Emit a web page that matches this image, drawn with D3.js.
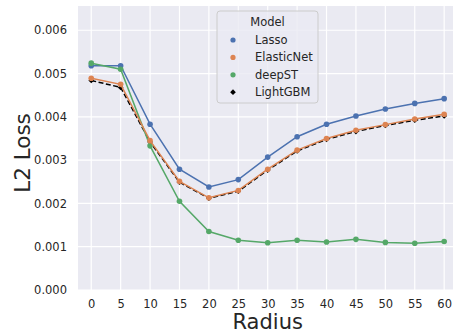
<!DOCTYPE html>
<html>
<head>
<meta charset="utf-8">
<script src="https://cdn.jsdelivr.net/npm/d3@7"></script>
<style>
  body { margin: 0; background: #fff; }
  svg { display: block; font-family: "DejaVu Sans", sans-serif; }
</style>
</head>
<body>
<div id="chart"></div>
<script>
const radius = [0, 5, 10, 15, 20, 25, 30, 35, 40, 45, 50, 55, 60];
const lasso = [0.00518, 0.00518, 0.00383, 0.00279, 0.00238, 0.00255, 0.00307, 0.00354, 0.00383, 0.00402, 0.00418, 0.00431, 0.00442];
const elasticNet = [0.00489, 0.00475, 0.00345, 0.00251, 0.00213, 0.00230, 0.00279, 0.00323, 0.00350, 0.00369, 0.00382, 0.00395, 0.00406];
const deepST = [0.00524, 0.00510, 0.00333, 0.00205, 0.00135, 0.00115, 0.00109, 0.00115, 0.00111, 0.00117, 0.00110, 0.00108, 0.00112];
const lightGBM = [0.00484, 0.00468, 0.00342, 0.00249, 0.00212, 0.00228, 0.00277, 0.00321, 0.00348, 0.00366, 0.00380, 0.00392, 0.00402];
const yTicks = [0, 0.001, 0.002, 0.003, 0.004, 0.005, 0.006];
const modelNames = ["Lasso", "ElasticNet", "deepST", "LightGBM"];

const width = 453, height = 334;
const plot = { left: 78, top: 6, right: 453, bottom: 290 };

const svg = d3.select("#chart")
    .append("svg")
    .attr("width", width)
    .attr("height", height);

const x = d3.scaleLinear()
    .domain([-2.25, 61.5])
    .range([plot.left, plot.right]);

const y = d3.scaleLinear()
    .domain([0, 0.00656])
    .range([plot.bottom, plot.top]);

// background
svg.append("rect")
    .attr("x", plot.left)
    .attr("y", plot.top)
    .attr("width", plot.right - plot.left + 10)
    .attr("height", plot.bottom - plot.top)
    .attr("fill", "#eaeaf2");

// grid
svg.append("g")
    .selectAll("line.hg")
    .data(yTicks)
    .join("line")
    .attr("x1", plot.left).attr("x2", plot.right + 10)
    .attr("y1", d => y(d)).attr("y2", d => y(d))
    .attr("stroke", "#fff").attr("stroke-width", 1.2);

svg.append("g")
    .selectAll("line.vg")
    .data(radius)
    .join("line")
    .attr("x1", d => x(d)).attr("x2", d => x(d))
    .attr("y1", plot.top).attr("y2", plot.bottom)
    .attr("stroke", "#fff").attr("stroke-width", 1.2);

// axes
const yAxis = svg.append("g")
    .attr("transform", `translate(${plot.left},0)`)
    .call(d3.axisLeft(y).tickValues(yTicks).tickFormat(d3.format(".3f")).tickSize(0).tickPadding(11));
const xAxis = svg.append("g")
    .attr("transform", `translate(0,${plot.bottom})`)
    .call(d3.axisBottom(x).tickValues(radius).tickFormat(d3.format("d")).tickSize(0).tickPadding(10));
[yAxis, xAxis].forEach(a => {
    a.select(".domain").remove();
    a.selectAll("text")
        .attr("fill", "#262626")
        .style("font-size", "11.5px")
        .style("font-family", "DejaVu Sans");
});

svg.append("text")
    .attr("x", (x(0) + x(60)) / 2)
    .attr("y", 329)
    .attr("text-anchor", "middle")
    .attr("fill", "#262626")
    .style("font-size", "21px")
    .text("Radius");

svg.append("text")
    .attr("transform", `translate(30,153) rotate(-90)`)
    .attr("text-anchor", "middle")
    .attr("fill", "#262626")
    .style("font-size", "21.5px")
    .text("L2 Loss");

// series
const series = [
    { name: "LightGBM", values: lightGBM, color: "#000000", dash: "5,2.5", marker: "diamond" },
    { name: "Lasso", values: lasso, color: "#4c72b0", dash: null, marker: "circle" },
    { name: "deepST", values: deepST, color: "#55a868", dash: null, marker: "circle" },
    { name: "ElasticNet", values: elasticNet, color: "#dd8452", dash: null, marker: "circle" }
];

const line = d3.line()
    .x(d => x(d[0]))
    .y(d => y(d[1]));

const clip = svg.append("defs").append("clipPath").attr("id", "clip")
    .append("rect")
    .attr("x", plot.left).attr("y", plot.top)
    .attr("width", plot.right - plot.left + 10).attr("height", plot.bottom - plot.top);

const marks = svg.append("g").attr("clip-path", "url(#clip)");

const diamond = d3.symbol().type(d3.symbolSquare).size(16);

series.forEach(s => {
    const pts = radius.map((r, i) => [r, s.values[i]]);
    marks.append("path")
        .datum(pts)
        .attr("d", line)
        .attr("fill", "none")
        .attr("stroke", s.color)
        .attr("stroke-width", 1.5)
        .attr("stroke-dasharray", s.dash);
    if (s.marker === "circle") {
        marks.append("g")
            .selectAll("circle")
            .data(pts)
            .join("circle")
            .attr("cx", d => x(d[0]))
            .attr("cy", d => y(d[1]))
            .attr("r", 2.8)
            .attr("fill", s.color);
    } else {
        marks.append("g")
            .selectAll("path")
            .data(pts)
            .join("path")
            .attr("d", diamond)
            .attr("transform", d => `translate(${x(d[0])},${y(d[1])}) rotate(45)`)
            .attr("fill", s.color);
    }
});

// legend
const legend = svg.append("g").attr("transform", "translate(217,11)");
legend.append("rect")
    .attr("width", 101).attr("height", 92)
    .attr("rx", 3)
    .attr("fill", "#eaeaf2").attr("fill-opacity", 0.8)
    .attr("stroke", "#cccccc").attr("stroke-width", 1);
legend.append("text")
    .attr("x", 50.5).attr("y", 15)
    .attr("text-anchor", "middle")
    .attr("fill", "#262626")
    .style("font-size", "11.5px")
    .text("Model");

const legendColors = { Lasso: "#4c72b0", ElasticNet: "#dd8452", deepST: "#55a868", LightGBM: "#000000" };
modelNames.forEach((name, i) => {
    const cy = 29 + i * 17.4;
    if (name === "LightGBM") {
        legend.append("path")
            .attr("d", diamond)
            .attr("transform", `translate(16,${cy}) rotate(45)`)
            .attr("fill", legendColors[name]);
    } else {
        legend.append("circle")
            .attr("cx", 16).attr("cy", cy).attr("r", 2.6)
            .attr("fill", legendColors[name]);
    }
    legend.append("text")
        .attr("x", 38).attr("y", cy + 4)
        .attr("fill", "#262626")
        .style("font-size", "11.5px")
        .text(name);
});
</script>
</body>
</html>
